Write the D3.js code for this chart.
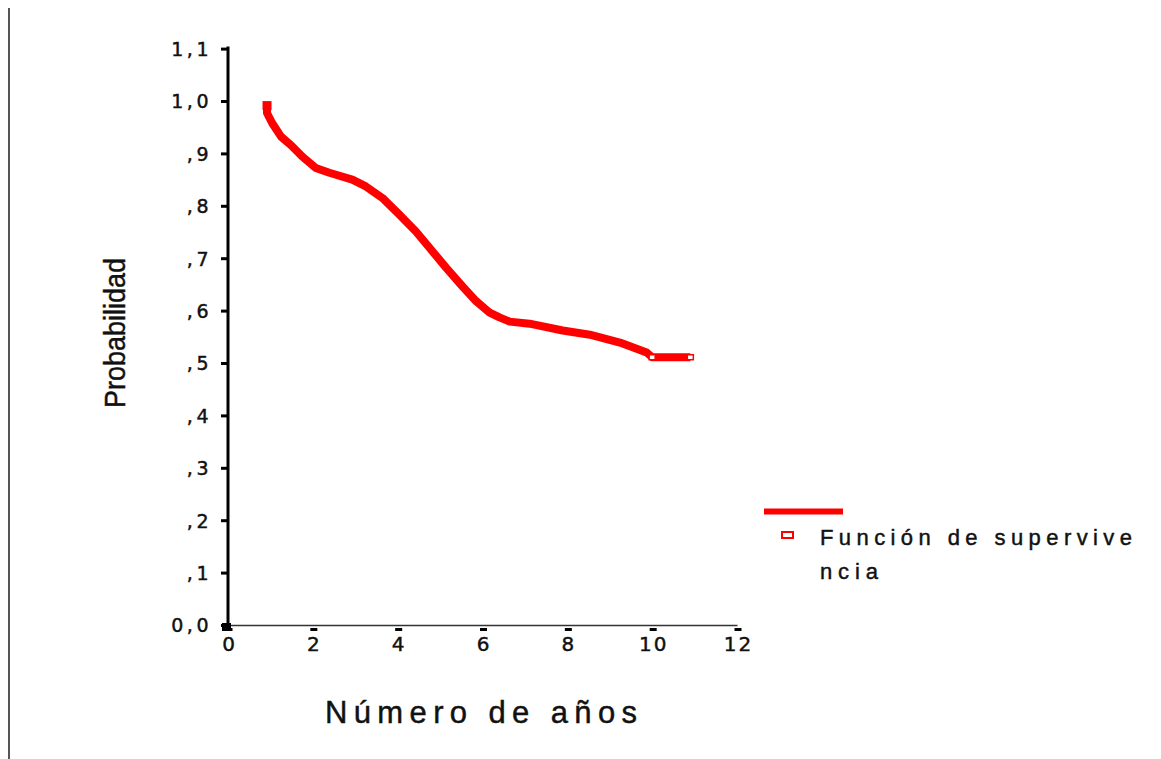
<!DOCTYPE html>
<html>
<head>
<meta charset="utf-8">
<script src="https://cdn.jsdelivr.net/npm/d3@7"></script>
<style>
  body { margin: 0; background: #fff; }
  text { font-family: "Liberation Sans", Arial, sans-serif; fill: #111; stroke: #111; stroke-width: 0.45px; }
</style>
</head>
<body>
<div id="chart"></div>
<script>
// survival curve (years, probability)
let years = [0.92, 0.92, 1.04, 1.25, 1.48, 1.75, 2.07, 2.39, 2.93, 3.25, 3.64, 4.04, 4.43, 4.75,
             5.14, 5.53, 5.85, 6.17, 6.40, 6.64, 7.11, 7.89, 8.53, 9.24, 9.87, 10.0, 10.9]
let survival = [0.996, 0.977, 0.958, 0.932, 0.916, 0.894, 0.872, 0.863, 0.850, 0.837, 0.815, 0.783, 0.751, 0.720,
                0.682, 0.646, 0.618, 0.596, 0.587, 0.579, 0.575, 0.562, 0.554, 0.539, 0.520, 0.511, 0.511]
// censored cases
let censoredYears = [10.0, 10.9]
let censoredSurv = [0.511, 0.511]

let yTicks = [0, 0.1, 0.2, 0.3, 0.4, 0.5, 0.6, 0.7, 0.8, 0.9, 1.0, 1.1]
let yTickLabels = ["0,0", ",1", ",2", ",3", ",4", ",5", ",6", ",7", ",8", ",9", "1,0", "1,1"]
let xTicks = [0, 2, 4, 6, 8, 10, 12]

let width = 1161
    height = 759

let svg = d3.select("#chart")
  .append("svg")
    .attr("width", width)
    .attr("height", height)

// frame line on the left
svg.append("line")
  .attr("x1", 9).attr("x2", 9)
  .attr("y1", 8).attr("y2", height)
  .attr("stroke", "#555")
  .attr("stroke-width", 2)

let x = d3.scaleLinear().domain([0, 12]).range([228, 737])
let y = d3.scaleLinear().domain([0, 1.1]).range([625, 48.6])

// y axis
let yAxis = svg.append("g")
  .attr("transform", "translate(228,0)")
  .call(d3.axisLeft(y)
    .tickValues(yTicks)
    .tickFormat(function(d, i) { return yTickLabels[i] })
    .tickSize(7)
    .tickSizeOuter(0))
yAxis.select(".domain").remove()
yAxis.selectAll(".tick line").attr("stroke", "#000").attr("stroke-width", 3)
yAxis.selectAll(".tick text")
  .attr("x", -16)
  .attr("dy", "0.36em")
  .style("font-size", "19px")
  .style("letter-spacing", "3.5px")
  .style("font-family", "DejaVu Sans, sans-serif")
yAxis.append("line")
  .attr("x1", 0).attr("x2", 0)
  .attr("y1", y(1.1) - 2).attr("y2", 631)
  .attr("stroke", "#000")
  .attr("stroke-width", 3)

// x axis
let xAxis = svg.append("g")
  .attr("transform", "translate(0,625)")
  .call(d3.axisBottom(x).tickValues(xTicks).tickSize(0).tickSizeOuter(0))
xAxis.select(".domain").attr("stroke", "#333").attr("stroke-width", 1.5)
xAxis.selectAll(".tick text")
  .attr("y", 12)
  .attr("dx", "1px")
  .style("font-size", "20px")
  .style("letter-spacing", "2px")
  .style("font-family", "DejaVu Sans, sans-serif")
xAxis.selectAll(".tick").append("rect")
  .attr("x", -3).attr("y", 3)
  .attr("width", 7).attr("height", 3)
  .attr("fill", "#000")
// corner block at the origin
svg.append("rect")
  .attr("x", 222).attr("y", 623)
  .attr("width", 9).attr("height", 8)
  .attr("fill", "#000")

// axis titles
svg.append("text")
  .attr("x", 481).attr("y", 723)
  .attr("text-anchor", "middle")
  .attr("textLength", 312)
  .attr("lengthAdjust", "spacing")
  .style("font-size", "31px")
  .text("Número de años")

svg.append("text")
  .attr("transform", "translate(125,333) rotate(-90)")
  .attr("text-anchor", "middle")
  .attr("textLength", 150)
  .attr("lengthAdjust", "spacingAndGlyphs")
  .style("font-size", "30px")
  .text("Probabilidad")

// survival curve
let line = d3.line()
  .x(function(d, i) { return x(years[i]) })
  .y(function(d) { return y(d) })

svg.append("path")
  .datum(survival)
  .attr("d", line)
  .attr("fill", "none")
  .attr("stroke", "#ff0000")
  .attr("stroke-width", 8)
  .attr("stroke-linejoin", "round")

// first case: solid block at the start
svg.append("rect")
  .attr("x", x(years[0]) - 4.5)
  .attr("y", y(survival[0]) - 2)
  .attr("width", 9).attr("height", 9)
  .attr("fill", "#ff0000")

svg.selectAll(".censor")
  .data(censoredSurv)
  .enter()
  .append("rect")
  .attr("class", "censor")
  .attr("x", function(d, i) { return x(censoredYears[i]) - 3 })
  .attr("y", function(d) { return y(d) - 2.5 })
  .attr("width", 6)
  .attr("height", 5)
  .attr("fill", "#fff")
  .attr("stroke", "#ff0000")
  .attr("stroke-width", 1.5)

// legend
svg.append("line")
  .attr("x1", 764).attr("x2", 843)
  .attr("y1", 511.5).attr("y2", 511.5)
  .attr("stroke", "#ff0000")
  .attr("stroke-width", 6)
svg.append("rect")
  .attr("x", 782).attr("y", 532)
  .attr("width", 11).attr("height", 6)
  .attr("fill", "#fff")
  .attr("stroke", "#ff0000")
  .attr("stroke-width", 2)
svg.append("text")
  .attr("x", 820).attr("y", 545)
  .attr("textLength", 312)
  .attr("lengthAdjust", "spacing")
  .style("font-size", "22px")
  .text("Función de supervive")
svg.append("text")
  .attr("x", 820).attr("y", 579)
  .attr("textLength", 58)
  .attr("lengthAdjust", "spacing")
  .style("font-size", "22px")
  .text("ncia")
</script>
</body>
</html>
